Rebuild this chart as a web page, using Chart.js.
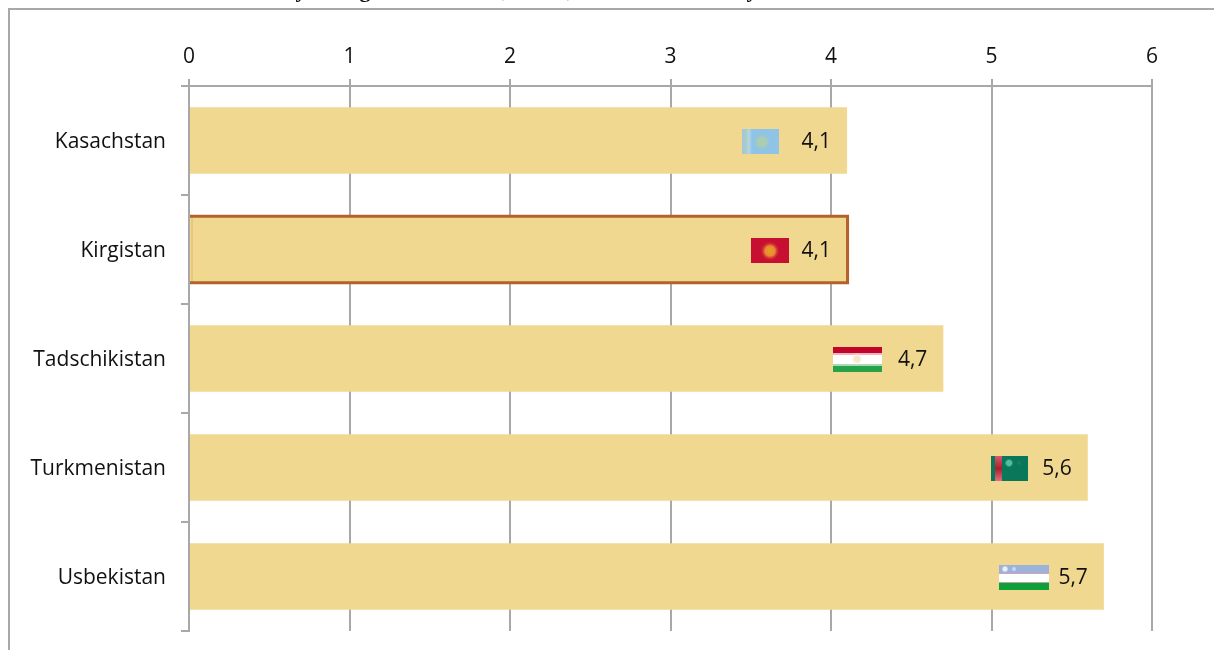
<!DOCTYPE html>
<html>
<head>
<meta charset="utf-8">
<title>Zentralasien</title>
<script src="https://cdn.jsdelivr.net/npm/chart.js@4/dist/chart.umd.min.js"></script>
<style>
    html, body { margin: 0; padding: 0; background: #fff; }
    canvas { display: block; }
</style>
</head>
<body>
<canvas id="chart" width="1214" height="650"></canvas>
<script>
const categories = ['Kasachstan', 'Kirgistan', 'Tadschikistan', 'Turkmenistan', 'Usbekistan'];
const values = [4.1, 4.1, 4.7, 5.6, 5.7];
const tickLabels = ['0', '1', '2', '3', '4', '5', '6'];
const highlighted = 'Kirgistan';

const FONT = '"Open Sans", sans-serif';
const GREY = '#a8a8a8';
const BAR = '#f0d891';
const OUTLINE = '#b3622a';

// Flag sizes and their distance from the end of the bar
const flags = {
    Kasachstan: { w: 37, gap: 68, draw: kazakhstan },
    Kirgistan: { w: 38, gap: 58, draw: kyrgyzstan },
    Tadschikistan: { w: 49, gap: 61, draw: tajikistan },
    Turkmenistan: { w: 37, gap: 60, draw: turkmenistan },
    Usbekistan: { w: 50, gap: 55, draw: uzbekistan }
};

// The title above the frame is cut off by the page edge, only these tails show
const titleTails = [['y', 301], ['g', 365], [',', 505], [',', 570], ['y', 752]];

function blob(ctx, x, y, r, inner, outer) {
    const g = ctx.createRadialGradient(x, y, 0, x, y, r);
    g.addColorStop(0, inner);
    g.addColorStop(0.5, inner);
    g.addColorStop(1, outer);
    ctx.fillStyle = g;
    ctx.fillRect(x - r, y - r, r * 2, r * 2);
}

function kazakhstan(ctx, x, y, w, h) {
    const g = ctx.createLinearGradient(x, 0, x + 10, 0);
    g.addColorStop(0, '#a8c4dc');
    g.addColorStop(0.4, '#a6cdc6');
    g.addColorStop(0.7, '#b6d6e4');
    g.addColorStop(1, '#8fc4e6');
    ctx.fillStyle = g;
    ctx.fillRect(x, y, w, h);
    blob(ctx, x + 20, y + 13, 9, 'rgba(175,205,170,0.9)', 'rgba(143,196,230,0)');
}

function kyrgyzstan(ctx, x, y, w, h) {
    ctx.fillStyle = '#c70f32';
    ctx.fillRect(x, y, w, h);
    blob(ctx, x + 19, y + 13, 10, '#ec8a35', 'rgba(199,15,50,0)');
    blob(ctx, x + 19, y + 13, 4, '#e0a020', 'rgba(236,138,53,0)');
}

function tajikistan(ctx, x, y, w, h) {
    ctx.fillStyle = '#fff';
    ctx.fillRect(x, y, w, h);
    ctx.fillStyle = '#c2042b';
    ctx.fillRect(x, y, w, 6);
    ctx.fillStyle = '#eeb3bd';
    ctx.fillRect(x, y + 6, w, 2);
    ctx.fillStyle = '#a8dcb4';
    ctx.fillRect(x, y + 17, w, 2);
    ctx.fillStyle = '#27a24b';
    ctx.fillRect(x, y + 19, w, 6);
    blob(ctx, x + 24, y + 12, 6, 'rgba(245,230,200,0.9)', 'rgba(255,255,255,0)');
}

function turkmenistan(ctx, x, y, w, h) {
    ctx.fillStyle = '#08775a';
    ctx.fillRect(x, y, w, h);
    const g = ctx.createLinearGradient(0, y, 0, y + h);
    g.addColorStop(0, '#d9596c');
    g.addColorStop(0.5, '#a8202f');
    g.addColorStop(1, '#e0707f');
    ctx.fillStyle = g;
    ctx.fillRect(x + 4, y, 7, h);
    blob(ctx, x + 18, y + 7, 5, 'rgba(90,195,160,0.95)', 'rgba(8,119,90,0)');
    blob(ctx, x + 28, y + 7, 3, 'rgba(40,120,100,0.8)', 'rgba(8,119,90,0)');
}

function uzbekistan(ctx, x, y, w, h) {
    ctx.fillStyle = '#fff';
    ctx.fillRect(x, y, w, h);
    ctx.fillStyle = '#9bb2da';
    ctx.fillRect(x, y, w, 8);
    ctx.fillStyle = '#d3a0b4';
    ctx.fillRect(x, y + 8, w, 1);
    ctx.fillStyle = '#b0a8a0';
    ctx.fillRect(x, y + 17, w, 1);
    ctx.fillStyle = '#0f9f38';
    ctx.fillRect(x, y + 18, w, 7);
    blob(ctx, x + 6, y + 4, 4, 'rgba(235,240,250,1)', 'rgba(155,178,218,0)');
    blob(ctx, x + 15, y + 4, 3, 'rgba(205,218,240,0.9)', 'rgba(155,178,218,0)');
}

const framePlugin = {
    id: 'frame',
    beforeDraw(chart) {
        const ctx = chart.ctx;
        ctx.save();
        ctx.strokeStyle = GREY;
        ctx.lineWidth = 2;
        ctx.strokeRect(9, 9, chart.width + 50, chart.height + 50);
        ctx.fillStyle = '#111';
        ctx.font = 'bold 22px "Liberation Serif", serif';
        ctx.textAlign = 'center';
        titleTails.forEach(([ch, x]) => ctx.fillText(ch, x, -3));
        ctx.restore();
    }
};

const barExtras = {
    id: 'barExtras',
    afterDatasetsDraw(chart) {
        const ctx = chart.ctx;
        const bars = chart.getDatasetMeta(0).data;
        bars.forEach((bar, i) => {
            const name = categories[i];
            const flag = flags[name];
            const top = bar.y - bar.height / 2;
            const bottom = bar.y + bar.height / 2;
            ctx.save();
            if (name === highlighted) {
                // open on the left, the axis line sits there
                ctx.strokeStyle = '#e8b468';
                ctx.lineWidth = 1;
                ctx.beginPath();
                ctx.moveTo(bar.base + 2, top);
                ctx.lineTo(bar.base + 2, bottom);
                ctx.stroke();
                ctx.strokeStyle = OUTLINE;
                ctx.lineWidth = 3;
                ctx.beginPath();
                ctx.moveTo(bar.base, top);
                ctx.lineTo(bar.x + 0.5, top);
                ctx.lineTo(bar.x + 0.5, bottom);
                ctx.lineTo(bar.base, bottom);
                ctx.stroke();
            }
            const fy = Math.round(bar.y) - 12;
            flag.draw(ctx, Math.round(bar.x) - flag.gap - flag.w, fy, flag.w, 25);
            ctx.fillStyle = '#111';
            ctx.font = '21px ' + FONT;
            ctx.textAlign = 'right';
            ctx.textBaseline = 'middle';
            ctx.fillText(String(values[i]).replace('.', ','), bar.x - 16, bar.y + 2);
            ctx.restore();
        });
    }
};

new Chart(document.getElementById('chart'), {
    type: 'bar',
    data: {
        labels: categories,
        datasets: [{
            data: values,
            backgroundColor: BAR,
            borderWidth: 0,
            categoryPercentage: 1,
            barPercentage: 0.61
        }]
    },
    options: {
        indexAxis: 'y',
        responsive: false,
        animation: false,
        layout: { padding: { top: 0, left: 0, right: 62, bottom: 19 } },
        plugins: { legend: { display: false }, tooltip: { enabled: false }, title: { display: false } },
        scales: {
            x: {
                position: 'top',
                min: 0,
                max: 6,
                afterFit(scale) { scale.height = 86; },
                ticks: {
                    stepSize: 1,
                    padding: 9,
                    color: '#111',
                    font: { family: FONT, size: 21 },
                    maxRotation: 0,
                    callback: (v, i) => tickLabels[i]
                },
                grid: { color: GREY, lineWidth: 2, tickLength: 7, drawTicks: true },
                border: { color: GREY, width: 2 }
            },
            y: {
                afterFit(scale) {
                    scale.width = 189;
                    // label half-heights would otherwise eat into the bottom margin
                    scale.paddingTop = 0;
                    scale.paddingBottom = 0;
                },
                ticks: {
                    padding: 15,
                    labelOffset: 2,
                    color: '#111',
                    font: { family: FONT, size: 21 }
                },
                grid: { color: GREY, lineWidth: 2, tickLength: 8, drawOnChartArea: false, offset: true },
                border: { color: GREY, width: 2, z: 1 }
            }
        }
    },
    plugins: [framePlugin, barExtras]
});
</script>
</body>
</html>
